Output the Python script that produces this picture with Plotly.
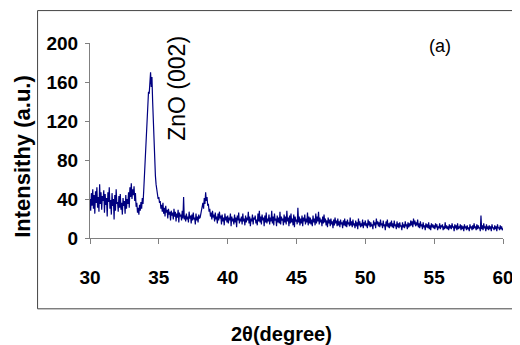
import plotly.graph_objects as go

# 2-theta grid from 30.00 to 60.00 in 0.05 steps
two_theta = [round(30 + i * 0.05, 2) for i in range(601)]

intensity = [
    40, 28, 46, 33, 50, 30, 44, 25, 48, 36, 52, 31, 42, 27, 55, 35, 47, 29, 43, 38,   # 30
    49, 26, 45, 34, 41, 22, 47, 37, 52, 30, 39, 24, 46, 33, 40, 19, 44, 28, 50, 35,   # 31
    37, 27, 43, 31, 45, 29, 36, 24, 41, 33, 38, 25, 44, 30, 40, 35, 47, 31, 52, 42,   # 32
    56, 40, 50, 44, 53, 38, 46, 32, 36, 26, 31, 24, 34, 28, 37, 30, 41, 35, 48, 62,   # 33
    78, 95, 108, 125, 138, 150, 148, 162, 170, 155, 165, 140, 118, 96, 78, 64, 55, 48, 44, 40,  # 34
    42, 36, 38, 30, 34, 27, 36, 25, 31, 22, 33, 26, 29, 20, 30, 24, 27, 18, 28, 23,   # 35
    26, 19, 30, 22, 27, 17, 25, 21, 29, 16, 26, 22, 24, 18, 28, 20, 42, 19, 23, 17,   # 36
    25, 19, 22, 16, 27, 20, 23, 15, 24, 18, 26, 19, 21, 14, 25, 18, 22, 16, 24, 20,   # 37
    21, 26, 29, 33, 36, 30, 41, 35, 47, 38, 42, 33, 35, 27, 30, 22, 26, 19, 28, 21,   # 38
    24, 17, 26, 19, 22, 15, 25, 18, 27, 20, 23, 14, 24, 17, 21, 13, 25, 18, 22, 16,   # 39
    23, 15, 21, 18, 25, 12, 22, 17, 20, 14, 24, 16, 21, 11, 23, 18, 26, 15, 20, 17,   # 40
    22, 14, 25, 17, 20, 13, 23, 16, 21, 18, 27, 15, 22, 12, 20, 17, 24, 14, 21, 19,   # 41
    23, 15, 19, 13, 25, 17, 28, 16, 22, 14, 24, 18, 21, 12, 23, 16, 26, 15, 20, 17,   # 42
    24, 14, 21, 17, 28, 15, 22, 13, 25, 18, 20, 12, 23, 16, 21, 15, 27, 14, 22, 18,   # 43
    20, 13, 24, 16, 22, 14, 28, 17, 21, 12, 23, 15, 25, 16, 20, 13, 24, 11, 22, 17,   # 44
    19, 14, 31, 16, 22, 13, 20, 15, 23, 12, 21, 17, 24, 14, 20, 16, 26, 13, 22, 15,   # 45
    21, 14, 19, 12, 23, 16, 20, 13, 25, 15, 22, 17, 27, 14, 21, 16, 19, 12, 22, 15,   # 46
    24, 16, 20, 13, 18, 11, 21, 15, 19, 12, 20, 14, 17, 10, 19, 13, 21, 15, 18, 12,   # 47
    20, 13, 17, 11, 19, 14, 16, 10, 18, 13, 20, 12, 17, 11, 19, 14, 16, 12, 21, 13,   # 48
    17, 11, 19, 13, 15, 10, 18, 12, 16, 9, 20, 13, 17, 11, 15, 12, 19, 10, 16, 13,    # 49
    18, 12, 15, 10, 19, 13, 17, 11, 16, 12, 14, 9, 18, 13, 16, 10, 20, 14, 17, 12,    # 50
    16, 11, 19, 13, 15, 10, 18, 12, 14, 8, 17, 12, 19, 11, 15, 10, 16, 12, 18, 11,    # 51
    15, 10, 18, 12, 14, 9, 17, 11, 15, 10, 16, 12, 13, 8, 16, 11, 14, 10, 17, 12,     # 52
    14, 9, 16, 11, 15, 12, 18, 13, 17, 11, 20, 14, 18, 12, 16, 13, 19, 11, 15, 10,    # 53
    17, 12, 14, 9, 16, 11, 13, 8, 15, 11, 14, 10, 16, 9, 13, 8, 15, 11, 14, 10,       # 54
    13, 9, 15, 11, 14, 8, 12, 10, 15, 9, 13, 11, 14, 8, 12, 9, 16, 10, 13, 9,         # 55
    12, 8, 14, 10, 13, 9, 15, 11, 12, 7, 14, 10, 13, 8, 15, 9, 12, 10, 14, 8,         # 56
    13, 9, 12, 7, 14, 10, 12, 8, 13, 9, 11, 7, 14, 10, 12, 8, 13, 9, 15, 10,          # 57
    12, 8, 14, 9, 13, 10, 11, 7, 23, 9, 13, 8, 15, 10, 12, 7, 14, 9, 12, 8,           # 58
    13, 9, 12, 7, 14, 10, 11, 8, 13, 9, 12, 7, 14, 10, 11, 8, 13, 9, 12, 8,           # 59
    10,                                                                              # 60
]

x_ticks = [30, 35, 40, 45, 50, 55, 60]
y_ticks = [0, 40, 80, 120, 160, 200]

# page has an 8px body margin; figure coordinates = page coordinates - 8
OFF = 8
W, H = 512, 337
L, R, T, B = 81.5, 17, 34.5, 107
pw, ph = W - L - R, H - T - B

def px(xp):
    return (xp - OFF - L) / pw

def py(yp):
    return (H - B - (yp - OFF)) / ph

fig = go.Figure()
fig.add_trace(go.Scatter(
    x=two_theta, y=intensity, mode="lines",
    line=dict(color="#000080", width=1.2),
    showlegend=False, hoverinfo="skip",
))

FONT = "Liberation Sans, Arial, sans-serif"
tick_font = dict(family=FONT, size=19, color="black", weight="bold")

frame = dict(color="#444444", width=1)
fig.update_layout(
    width=W, height=H, autosize=False,
    margin=dict(l=L, r=R, t=T, b=B, autoexpand=False),
    paper_bgcolor="white", plot_bgcolor="white",
    xaxis=dict(
        range=[30, 60], tickvals=x_ticks, ticktext=[str(v) for v in x_ticks],
        showgrid=False, zeroline=False, showline=True, linecolor="#808080", linewidth=1,
        ticks="outside", ticklen=5, tickcolor="#808080", tickwidth=1,
        tickfont=tick_font, ticklabelstandoff=17, automargin=False,
    ),
    yaxis=dict(
        range=[0, 200], tickvals=y_ticks, ticktext=[str(v) for v in y_ticks],
        showgrid=False, zeroline=False, showline=True, linecolor="#808080", linewidth=1,
        ticks="outside", ticklen=4, tickcolor="#808080", tickwidth=1,
        tickfont=tick_font, ticklabelstandoff=3, automargin=False,
    ),
    shapes=[
        dict(type="line", xref="paper", yref="paper", x0=px(37), x1=px(522), y0=py(10), y1=py(10), line=frame),
        dict(type="line", xref="paper", yref="paper", x0=px(37), x1=px(522), y0=py(309), y1=py(309), line=frame),
        dict(type="line", xref="paper", yref="paper", x0=px(37), x1=px(37), y0=py(10), y1=py(309), line=frame),
    ],
    annotations=[
        dict(text="Intensithy (a.u.)", xref="paper", yref="paper",
             x=px(22), y=py(156), textangle=-90, showarrow=False,
             font=dict(family=FONT, size=22, color="black", weight="bold"),
             xanchor="center", yanchor="middle"),
        dict(text="2θ(degree)", xref="paper", yref="paper",
             x=px(281), y=py(334), showarrow=False,
             font=dict(family=FONT, size=20, color="black", weight="bold"),
             xanchor="center", yanchor="middle"),
        dict(text="ZnO (002)", xref="paper", yref="paper",
             x=px(177), y=py(88), textangle=-90, showarrow=False,
             font=dict(family=FONT, size=23, color="black"),
             xanchor="center", yanchor="middle"),
        dict(text="(a)", xref="paper", yref="paper",
             x=px(440), y=py(46), showarrow=False,
             font=dict(family=FONT, size=18, color="black"),
             xanchor="center", yanchor="middle"),
    ],
)

fig.write_html("out.html")
